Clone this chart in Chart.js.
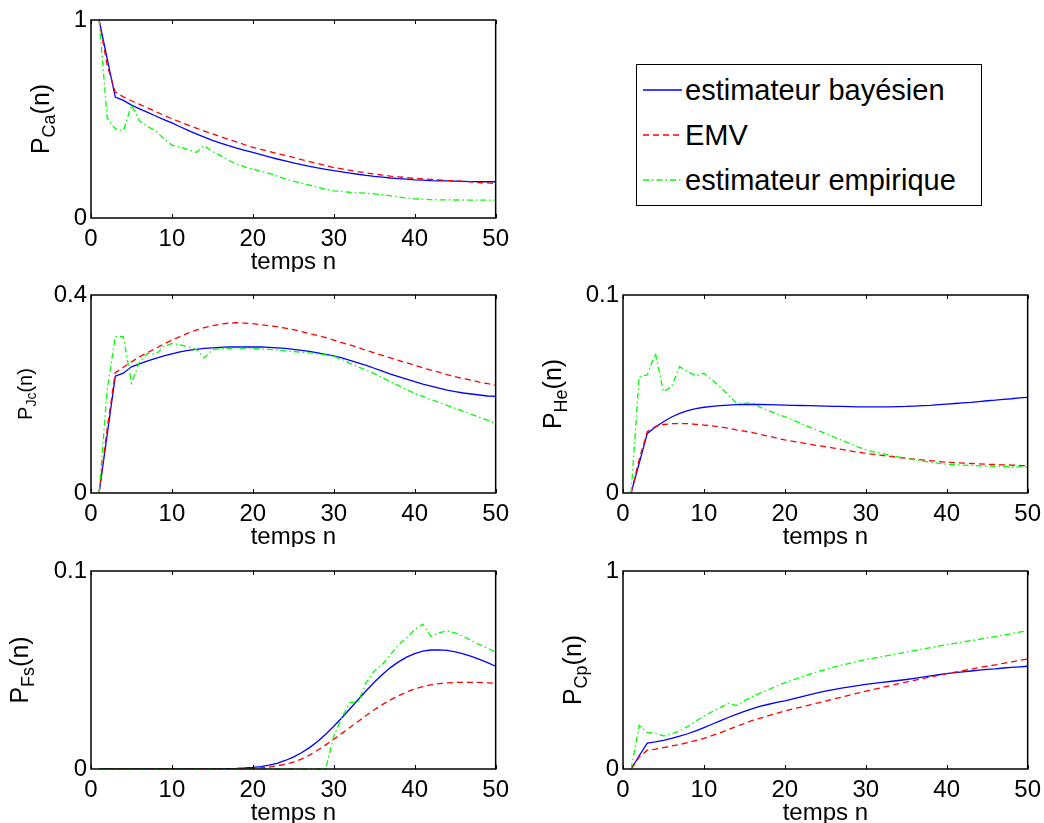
<!DOCTYPE html>
<html>
<head>
<meta charset="utf-8">
<script src="https://cdn.jsdelivr.net/npm/chart.js"></script>
<style>
  body { margin: 0; background: #fff; overflow: hidden; }
  #fig { position: relative; width: 1044px; height: 823px; font-family: "Liberation Sans", Arial, sans-serif; }
  #fig canvas { position: absolute; }
  #legende { position: absolute; left: 636px; top: 64px; width: 344px; height: 140px; border: 1px solid #000; background: #fff; }
  .item { position: absolute; left: 0; height: 40px; display: flex; align-items: center; font-size: 29px; color: #000; white-space: nowrap; }
  .item svg { margin-left: 6px; margin-right: 3px; }
</style>
</head>
<body>
<div id="fig">
  <canvas id="gCa" width="516" height="272" style="left:0;top:0"></canvas>
  <canvas id="gJc" width="516" height="272" style="left:0;top:275px"></canvas>
  <canvas id="gHe" width="516" height="272" style="left:532px;top:275px"></canvas>
  <canvas id="gFs" width="516" height="272" style="left:0;top:551px"></canvas>
  <canvas id="gCp" width="516" height="272" style="left:532px;top:551px"></canvas>

  <div id="legende">
    <div class="item" style="top:5px">
      <svg width="39" height="6"><line x1="0" y1="3" x2="39" y2="3" stroke="#0000ff" stroke-width="1.3"/></svg>estimateur bayésien
    </div>
    <div class="item" style="top:50px">
      <svg width="39" height="6"><line x1="0" y1="3" x2="39" y2="3" stroke="#ff0000" stroke-width="1.3" stroke-dasharray="6 4"/></svg>EMV
    </div>
    <div class="item" style="top:95px">
      <svg width="39" height="6"><line x1="0" y1="3" x2="39" y2="3" stroke="#00ff00" stroke-width="1.3" stroke-dasharray="6 3 1.5 3"/></svg>estimateur empirique
    </div>
  </div>
</div>

<script>
  const temps = Array.from({ length: 50 }, (_, i) => i + 1);

  // P_Ca(n)
  const caBayes = [1.000,0.805,0.611,0.594,0.570,0.551,0.533,0.515,0.497,0.480,
                   0.461,0.443,0.425,0.408,0.392,0.378,0.365,0.353,0.342,0.331,
                   0.320,0.309,0.298,0.288,0.278,0.270,0.261,0.253,0.246,0.239,
                   0.233,0.227,0.221,0.215,0.210,0.206,0.202,0.199,0.196,0.193,
                   0.191,0.189,0.188,0.187,0.186,0.185,0.184,0.184,0.183,0.183];
  const caEmv   = [1.000,0.770,0.636,0.612,0.592,0.574,0.556,0.537,0.519,0.501,
                   0.485,0.469,0.454,0.439,0.425,0.411,0.397,0.384,0.370,0.357,
                   0.346,0.336,0.326,0.316,0.306,0.295,0.285,0.275,0.265,0.255,
                   0.248,0.241,0.234,0.228,0.222,0.217,0.212,0.208,0.204,0.200,
                   0.198,0.195,0.193,0.190,0.188,0.185,0.182,0.179,0.177,0.174];
  const caEmp   = [1.000,0.505,0.450,0.440,0.570,0.490,0.462,0.440,0.400,0.368,
                   0.358,0.345,0.332,0.365,0.335,0.315,0.292,0.272,0.258,0.247,
                   0.236,0.225,0.212,0.198,0.186,0.176,0.166,0.155,0.145,0.137,
                   0.134,0.130,0.127,0.125,0.122,0.118,0.112,0.106,0.101,0.097,
                   0.095,0.093,0.092,0.092,0.091,0.091,0.090,0.090,0.090,0.090];

  // P_Jc(n)
  const jcBayes = [0,0.118,0.236,0.242,0.255,0.261,0.267,0.272,0.277,0.281,
                   0.285,0.288,0.290,0.292,0.293,0.294,0.295,0.295,0.295,0.295,
                   0.295,0.294,0.293,0.292,0.290,0.288,0.286,0.283,0.280,0.277,
                   0.273,0.268,0.263,0.258,0.252,0.246,0.240,0.235,0.230,0.225,
                   0.220,0.216,0.212,0.208,0.205,0.202,0.200,0.198,0.196,0.195];
  const jcEmv   = [0,0.130,0.243,0.254,0.265,0.275,0.284,0.292,0.301,0.309,
                   0.316,0.323,0.329,0.334,0.338,0.341,0.343,0.344,0.343,0.342,
                   0.340,0.338,0.336,0.333,0.330,0.326,0.322,0.318,0.314,0.309,
                   0.304,0.299,0.294,0.288,0.283,0.278,0.273,0.268,0.263,0.258,
                   0.253,0.248,0.244,0.239,0.235,0.231,0.228,0.224,0.221,0.218];
  const jcEmp   = [0,0.208,0.316,0.316,0.222,0.265,0.282,0.280,0.296,0.302,
                   0.299,0.296,0.290,0.273,0.289,0.292,0.292,0.293,0.292,0.292,
                   0.291,0.290,0.289,0.287,0.286,0.284,0.283,0.281,0.279,0.276,
                   0.270,0.262,0.255,0.248,0.241,0.233,0.225,0.217,0.209,0.201,
                   0.195,0.189,0.183,0.177,0.171,0.165,0.159,0.153,0.147,0.141];

  // P_He(n)
  const heBayes = [0,0.0150,0.0301,0.0333,0.0360,0.0384,0.0402,0.0416,0.0426,0.0433,
                   0.0438,0.0441,0.0444,0.0446,0.0447,0.0447,0.0447,0.0446,0.0445,0.0444,
                   0.0443,0.0442,0.0441,0.0440,0.0439,0.0438,0.0437,0.0436,0.0435,0.0435,
                   0.0435,0.0435,0.0435,0.0436,0.0437,0.0439,0.0441,0.0443,0.0446,0.0449,
                   0.0452,0.0455,0.0458,0.0462,0.0466,0.0469,0.0473,0.0476,0.0480,0.0483];
  const heEmv   = [0,0.0170,0.0310,0.0335,0.0346,0.0350,0.0351,0.0350,0.0347,0.0343,
                   0.0339,0.0334,0.0327,0.0319,0.0312,0.0305,0.0296,0.0287,0.0277,0.0268,
                   0.0261,0.0254,0.0247,0.0240,0.0234,0.0227,0.0220,0.0213,0.0206,0.0200,
                   0.0195,0.0190,0.0185,0.0180,0.0175,0.0171,0.0167,0.0163,0.0159,0.0155,
                   0.0153,0.0151,0.0149,0.0147,0.0145,0.0144,0.0142,0.0141,0.0139,0.0138];
  const heEmp   = [0,0.0587,0.0596,0.0706,0.0512,0.0537,0.0638,0.0613,0.0592,0.0605,
                   0.0571,0.0537,0.0495,0.0455,0.0453,0.0456,0.0432,0.0415,0.0400,0.0385,
                   0.0368,0.0351,0.0334,0.0317,0.0301,0.0284,0.0267,0.0250,0.0233,0.0218,
                   0.0208,0.0199,0.0190,0.0182,0.0175,0.0168,0.0161,0.0155,0.0150,0.0145,
                   0.0143,0.0141,0.0139,0.0137,0.0136,0.0135,0.0134,0.0133,0.0132,0.0131];

  // P_Fs(n)
  const fsBayes = [0,0,0,0,0,0,0,0,0,0,
                   0,0,0,0,0,0.0001,0.0002,0.0003,0.0005,0.0008,
                   0.0012,0.0019,0.0029,0.0043,0.0060,0.0082,0.0108,0.0139,0.0176,0.0216,
                   0.0259,0.0304,0.0350,0.0395,0.0438,0.0477,0.0512,0.0541,0.0565,0.0583,
                   0.0595,0.0601,0.0602,0.0599,0.0592,0.0582,0.0569,0.0554,0.0537,0.0519];
  const fsEmv   = [0,0,0,0,0,0,0,0,0,0,
                   0,0,0,0,0,0,0,0,0.0001,0.0003,
                   0.0006,0.0010,0.0016,0.0024,0.0035,0.0050,0.0070,0.0095,0.0122,0.0150,
                   0.0180,0.0210,0.0240,0.0270,0.0299,0.0325,0.0349,0.0370,0.0389,0.0404,
                   0.0416,0.0425,0.0431,0.0435,0.0437,0.0438,0.0438,0.0437,0.0435,0.0433];
  const fsEmp   = [0,0,0,0,0,0,0,0,0,0,
                   0,0,0,0,0,0,0,0,0,0,
                   0,0,0,0,0,0,0,0,0,0.0167,
                   0.0260,0.0335,0.0340,0.0436,0.0494,0.0528,0.0578,0.0628,0.0662,0.0704,
                   0.0732,0.0670,0.0687,0.0698,0.0687,0.0670,0.0648,0.0628,0.0610,0.0591];

  // P_Cp(n)
  const cpBayes = [0,0.067,0.131,0.137,0.145,0.155,0.166,0.178,0.193,0.209,
                   0.226,0.243,0.260,0.276,0.291,0.305,0.317,0.327,0.336,0.344,
                   0.354,0.364,0.374,0.384,0.393,0.401,0.408,0.415,0.421,0.427,
                   0.432,0.437,0.442,0.447,0.452,0.458,0.464,0.470,0.476,0.482,
                   0.487,0.491,0.495,0.499,0.503,0.506,0.510,0.513,0.516,0.519];
  const cpEmv   = [0,0.060,0.095,0.100,0.108,0.116,0.124,0.133,0.144,0.155,
                   0.169,0.183,0.199,0.214,0.230,0.245,0.257,0.269,0.281,0.293,
                   0.303,0.313,0.323,0.333,0.343,0.353,0.363,0.373,0.383,0.393,
                   0.402,0.411,0.421,0.430,0.439,0.448,0.456,0.465,0.473,0.482,
                   0.489,0.497,0.504,0.512,0.519,0.526,0.534,0.541,0.549,0.556];
  const cpEmp   = [0,0.220,0.185,0.181,0.167,0.176,0.193,0.215,0.241,0.268,
                   0.289,0.310,0.332,0.320,0.345,0.366,0.384,0.401,0.419,0.436,
                   0.450,0.464,0.478,0.491,0.503,0.514,0.524,0.534,0.544,0.553,
                   0.560,0.568,0.575,0.583,0.590,0.598,0.606,0.613,0.621,0.628,
                   0.635,0.642,0.648,0.655,0.662,0.669,0.676,0.684,0.691,0.698];

  const police = '"Liberation Sans", Arial, sans-serif';
  Chart.defaults.font.family = police;
  Chart.defaults.color = '#000';

  // cadre noir, petites graduations vers l'intérieur et titre Y avec indice
  const cadreMatlab = {
    id: 'cadreMatlab',
    afterDatasetsDraw(chart, args, opts) {
      const { ctx, chartArea: a, scales: { x } } = chart;
      ctx.save();
      ctx.strokeStyle = '#000';
      ctx.lineWidth = 1.5;
      ctx.strokeRect(a.left, a.top, a.right - a.left, a.bottom - a.top);
      ctx.lineWidth = 1;
      ctx.beginPath();
      x.ticks.forEach(t => {
        const px = Math.round(x.getPixelForValue(t.value)) + 0.5;
        ctx.moveTo(px, a.bottom); ctx.lineTo(px, a.bottom - 4);
        ctx.moveTo(px, a.top); ctx.lineTo(px, a.top + 4);
      });
      ctx.stroke();

      const [p, sub, fin] = opts.label;
      const s = opts.size, ss = Math.round(s * 0.72);
      ctx.translate(a.left - opts.offset, (a.top + a.bottom) / 2);
      ctx.rotate(-Math.PI / 2);
      ctx.fillStyle = '#000';
      ctx.textBaseline = 'middle';
      ctx.font = s + 'px ' + police;
      const wp = ctx.measureText(p).width, wf = ctx.measureText(fin).width;
      ctx.font = ss + 'px ' + police;
      const ws = ctx.measureText(sub).width;
      const x0 = -(wp + ws + wf) / 2;
      ctx.font = s + 'px ' + police;
      ctx.fillText(p, x0, 0);
      ctx.fillText(fin, x0 + wp + ws, 0);
      ctx.font = ss + 'px ' + police;
      ctx.fillText(sub, x0 + wp, s * 0.32);
      ctx.restore();
    }
  };

  function tracer(id, bayes, emv, empir, ymax, label, offset, size) {
    new Chart(document.getElementById(id), {
      type: 'line',
      data: {
        labels: temps,
        datasets: [
          { label: 'estimateur bayésien', data: bayes, borderColor: '#0000ff', borderWidth: 1.3, order: 2 },
          { label: 'EMV', data: emv, borderColor: '#ff0000', borderDash: [6, 4], borderWidth: 1.3, order: 1 },
          { label: 'estimateur empirique', data: empir, borderColor: '#00ff00', borderDash: [6, 3, 1.5, 3], borderWidth: 1.3, order: 0 }
        ]
      },
      options: {
        responsive: false,
        animation: false,
        elements: { point: { radius: 0 }, line: { tension: 0 } },
        layout: { padding: { top: 20, right: 20 } },
        plugins: {
          legend: { display: false },
          tooltip: { enabled: false },
          cadreMatlab: { label, offset, size }
        },
        scales: {
          x: {
            type: 'linear', min: 0, max: 50,
            grid: { display: false, drawTicks: false },
            border: { display: false },
            ticks: { stepSize: 10, padding: 7, maxRotation: 0, autoSkip: false, font: { size: 24 } },
            title: { display: true, text: 'temps n', font: { size: 24, lineHeight: 1.1 }, padding: { top: 0, bottom: -4 } },
            afterFit: s => { s.height = 54; }
          },
          y: {
            min: 0, max: ymax,
            grid: { display: false, drawTicks: false },
            border: { display: false },
            ticks: { stepSize: ymax, padding: 4, font: { size: 24 } },
            afterFit: s => { s.width = 91; }
          }
        }
      },
      plugins: [cadreMatlab]
    });
  }

  tracer('gCa', caBayes, caEmv, caEmp, 1,   ['P', 'Ca', '(n)'], 49, 25);
  tracer('gJc', jcBayes, jcEmv, jcEmp, 0.4, ['P', 'Jc', '(n)'], 65, 20);
  tracer('gHe', heBayes, heEmv, heEmp, 0.1, ['P', 'He', '(n)'], 69, 25);
  tracer('gFs', fsBayes, fsEmv, fsEmp, 0.1, ['P', 'Fs', '(n)'], 70, 25);
  tracer('gCp', cpBayes, cpEmv, cpEmp, 1,   ['P', 'Cp', '(n)'], 49, 25);
</script>
</body>
</html>
